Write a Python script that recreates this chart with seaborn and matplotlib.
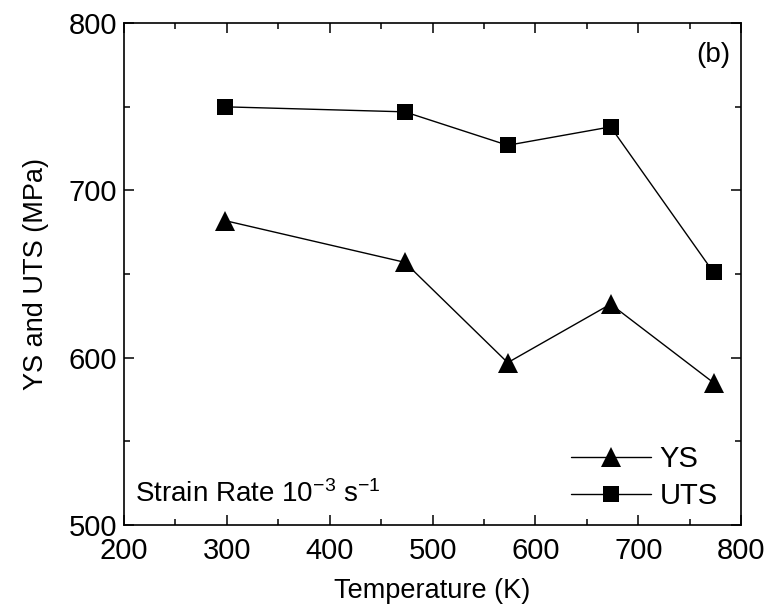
import matplotlib
matplotlib.use("Agg")
import matplotlib.pyplot as plt
import seaborn as sns
import pandas as pd
from matplotlib.ticker import MultipleLocator

temperature = [298, 473, 573, 673, 773]
ys_values = [682, 657, 597, 632, 585]
uts_values = [750, 747, 727, 738, 651]
series_names = ["YS", "UTS"]

sns.set_style("ticks")
plt.rcParams["font.family"] = ["Liberation Sans", "DejaVu Sans"]
plt.rcParams["mathtext.fontset"] = "custom"
plt.rcParams["mathtext.rm"] = "Liberation Sans"
plt.rcParams["mathtext.it"] = "Liberation Sans:italic"
plt.rcParams["mathtext.bf"] = "Liberation Sans:bold"
for k in ["text.color", "axes.labelcolor", "xtick.color", "ytick.color", "axes.edgecolor"]:
    plt.rcParams[k] = "black"

df = pd.DataFrame({
    "T": temperature * 2,
    "val": ys_values + uts_values,
    "series": [series_names[0]] * len(temperature) + [series_names[1]] * len(temperature),
})

fig = plt.figure(figsize=(7.69, 6.11), dpi=100)
ax = fig.add_axes([0.161, 0.141, 0.803, 0.821])

sns.lineplot(data=df[df.series == "YS"], x="T", y="val", ax=ax, color="black",
             marker="^", markersize=14.5, linewidth=1.0, markeredgewidth=0,
             label="YS")
sns.lineplot(data=df[df.series == "UTS"], x="T", y="val", ax=ax, color="black",
             marker="s", markersize=11, linewidth=1.0, markeredgewidth=0,
             label="UTS")

ax.set_xlim(200, 800)
ax.set_ylim(500, 800)
ax.xaxis.set_major_locator(MultipleLocator(100))
ax.xaxis.set_minor_locator(MultipleLocator(50))
ax.yaxis.set_major_locator(MultipleLocator(100))
ax.yaxis.set_minor_locator(MultipleLocator(50))
ax.tick_params(which="both", direction="in", top=True, right=True, width=1.1,
               labelsize=21)
ax.tick_params(axis="x", which="major", pad=9)
ax.tick_params(axis="y", which="major", pad=5)
ax.tick_params(which="major", length=7)
ax.tick_params(which="minor", length=4)
for s in ax.spines.values():
    s.set_linewidth(1.2)
    s.set_visible(True)

ax.set_xlabel("Temperature (K)", fontsize=19.5, labelpad=9)
ax.set_ylabel("YS and UTS (MPa)", fontsize=19.5, labelpad=14)

ax.text(0.982, 0.937, "(b)", transform=ax.transAxes, ha="right", va="center", fontsize=20)
ax.text(0.018, 0.062, r"Strain Rate 10$^{-3}$ s$^{-1}$", transform=ax.transAxes,
        ha="left", va="center", fontsize=20)

leg = ax.legend(loc="lower right", frameon=False, fontsize=21, handlelength=2.75,
                handletextpad=0.3, labelspacing=0.32, borderaxespad=0.3,
                bbox_to_anchor=(0.995, -0.012))

fig.savefig("out.png", dpi=100)
